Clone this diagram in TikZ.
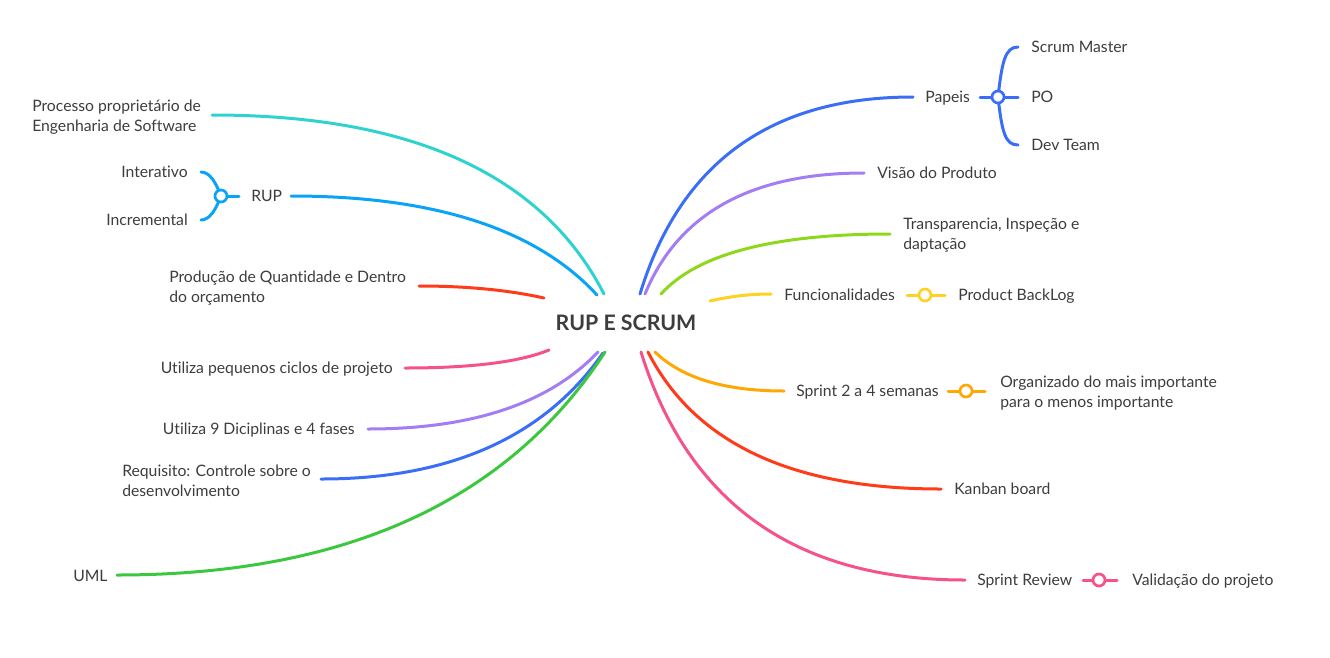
\documentclass[tikz,border=0pt]{standalone}
\usepackage{fontspec}
\setmainfont{Lato}[Ligatures=NoCommon]
\definecolor{cCyan}{HTML}{2ED3CF}
\definecolor{cLBlue}{HTML}{0AA4F6}
\definecolor{cRed}{HTML}{FF3B1A}
\definecolor{cPink}{HTML}{F5528C}
\definecolor{cPurple}{HTML}{A47CF3}
\definecolor{cBlue}{HTML}{3B6EF7}
\definecolor{cGreen}{HTML}{3CC83E}
\definecolor{cLime}{HTML}{8ED71B}
\definecolor{cYellow}{HTML}{FFD124}
\definecolor{cOrange}{HTML}{FFA803}
\definecolor{txt}{HTML}{3D3D3D}
\begin{document}
\begin{tikzpicture}[x=0.75pt,y=-0.75pt,
  lbl/.style={font=\fontsize{11.8}{15}\selectfont, text=txt, inner sep=0pt, text height=9.8pt, text depth=1.4pt},
  lbltwo/.style={font=\fontsize{11.8}{15}\selectfont, text=txt, inner sep=0pt, align=left, yshift=-1.5pt},
  br/.style={line width=2.25pt, line cap=round},
  knot/.style={circle, draw, fill=white, line width=2pt, minimum size=9pt, inner sep=0pt}]
\useasboundingbox (0,0) rectangle (1330,657);

% centre
\node[font=\fontsize{16}{19}\selectfont\bfseries, text=txt, inner sep=0pt] (root) at (626,323) {RUP E SCRUM};

% ---------- left side ----------
\node[lbltwo, anchor=west] (processo) at (32,115) {Processo proprietário de\\Engenharia de Software};
\node[lbl, anchor=west] (rup) at (251,196) {RUP};
\node[lbl, anchor=east] (interativo) at (188,172) {Interativo};
\node[lbl, anchor=east] (incremental) at (188,220) {Incremental};
\node[lbltwo, anchor=west] (producao) at (169,286.5) {Produção de Quantidade e Dentro\\do orçamento};
\node[lbl, anchor=east] (pequenos) at (393,368) {Utiliza pequenos ciclos de projeto};
\node[lbl, anchor=east] (dicip) at (355,429) {Utiliza 9 Diciplinas e 4 fases};
\node[lbltwo, anchor=west] (requisito) at (122,479) {Requisito: Controle sobre o\\desenvolvimento};
\node[lbl, anchor=west] (uml) at (73,576) {UML};

% ---------- right side ----------
\node[lbl, anchor=west] (papeis) at (925,97) {Papeis};
\node[lbl, anchor=west] (scrummaster) at (1031,47) {Scrum Master};
\node[lbl, anchor=west] (po) at (1031,97) {PO};
\node[lbl, anchor=west] (devteam) at (1031,145) {Dev Team};
\node[lbl, anchor=west] (visao) at (877,173) {Visão do Produto};
\node[lbltwo, anchor=west] (transp) at (903,233.5) {Transparencia, Inspeção e\\daptação};
\node[lbl, anchor=west] (func) at (784,295) {Funcionalidades};
\node[lbl, anchor=west] (backlog) at (958,295) {Product BackLog};
\node[lbl, anchor=west] (sprint) at (796,391) {Sprint 2 a 4 semanas};
\node[lbltwo, anchor=west] (organizado) at (1000,391.5) {Organizado do mais importante\\para o menos importante};
\node[lbl, anchor=west] (kanban) at (954,489) {Kanban board};
\node[lbl, anchor=west] (review) at (977,580) {Sprint Review};
\node[lbl, anchor=west] (validacao) at (1132,580) {Validação do projeto};

% ---------- connector end points ----------
\coordinate (s1) at (604,294);  \coordinate (e1) at (212,115);
\coordinate (s2) at (597,295);  \coordinate (e2) at (291,196);
\coordinate (s3) at (544,298);  \coordinate (e3) at (419,286);
\coordinate (s4) at (549,350);  \coordinate (e4) at (405,368);
\coordinate (s5) at (598,352);  \coordinate (e5) at (368,429);
\coordinate (s6) at (603,353);  \coordinate (e6) at (321,479);
\coordinate (s7) at (605,352);  \coordinate (e7) at (117,575);
\coordinate (s8) at (640,294);  \coordinate (e8) at (913,97);
\coordinate (s9) at (645,294);  \coordinate (e9) at (864,173);
\coordinate (s10) at (661,294); \coordinate (e10) at (890,234);
\coordinate (s11) at (710,301); \coordinate (e11) at (771,294);
\coordinate (s12) at (655,352); \coordinate (e12) at (784,391);
\coordinate (s13) at (648,352); \coordinate (e13) at (941,489);
\coordinate (s14) at (641,352); \coordinate (e14) at (965,580);

% main branches
\draw[br, cCyan]   (s1) .. controls (542.7,174.7) and (412,115) .. (e1);
\draw[br, cLBlue]  (s2) .. controls (536.3,229) and (434.3,196) .. (e2);
\draw[br, cRed]    (s3) .. controls (508,290) and (466.3,286) .. (e3);
\draw[br, cPink]   (s4) .. controls (519.7,362) and (471.7,368) .. (e4);
\draw[br, cPurple] (s5) .. controls (549.3,403.3) and (472.7,429) .. (e5);
\draw[br, cBlue]   (s6) .. controls (544.3,437) and (450.3,479) .. (e6);
\draw[br, cGreen]  (s7) .. controls (508.3,500.7) and (345.7,575) .. (e7);
\draw[br, cBlue]   (s8) .. controls (680,162.7) and (771,97) .. (e8);
\draw[br, cPurple] (s9) .. controls (678.3,213.3) and (751.3,173) .. (e9);
\draw[br, cLime]   (s10) .. controls (697,254) and (773.3,234) .. (e10);
\draw[br, cYellow] (s11) .. controls (730,296.3) and (750.3,294) .. (e11);
\draw[br, cOrange] (s12) .. controls (681.7,378) and (724.7,391) .. (e12);
\draw[br, cRed]    (s13) .. controls (694.7,443.3) and (792.3,489) .. (e13);
\draw[br, cPink]   (s14) .. controls (688.3,504) and (796.3,580) .. (e14);

% ---------- sub-branches ----------
% Papeis
\coordinate (kp) at (998,97);
\coordinate (pa) at (980,97);
\coordinate (sm) at (1018,47);
\coordinate (pe) at (1018,97);
\coordinate (dt) at (1018,145);
\draw[br, cBlue] (pa) -- (kp) -- (pe);
\draw[br, cBlue] (kp) .. controls (1002,62) and (1005,47) .. (sm);
\draw[br, cBlue] (kp) .. controls (1002,132) and (1005,145) .. (dt);
\node[knot, draw=cBlue] (knotpapeis) at (kp) {};

% RUP
\coordinate (kr) at (221,196);
\coordinate (ra) at (239,196);
\coordinate (it) at (201,172);
\coordinate (ic) at (201,220);
\draw[br, cLBlue] (ra) -- (kr);
\draw[br, cLBlue] (kr) .. controls (216,183) and (210,172) .. (it);
\draw[br, cLBlue] (kr) .. controls (216,209) and (210,220) .. (ic);
\node[knot, draw=cLBlue] (knotrup) at (kr) {};

% Funcionalidades -> Product BackLog
\coordinate (fa) at (907,295); \coordinate (fb) at (945,295);
\draw[br, cYellow] (fa) -- (fb);
\node[knot, draw=cYellow] (knotfunc) at (925,295) {};

% Sprint -> Organizado
\coordinate (sa) at (948,391); \coordinate (sb) at (985,391);
\draw[br, cOrange] (sa) -- (sb);
\node[knot, draw=cOrange] (knotsprint) at (966,391) {};

% Sprint Review -> Validação
\coordinate (va) at (1083,580); \coordinate (vb) at (1117,580);
\draw[br, cPink] (va) -- (vb);
\node[knot, draw=cPink] (knotreview) at (1099,580) {};
\end{tikzpicture}
\end{document}
